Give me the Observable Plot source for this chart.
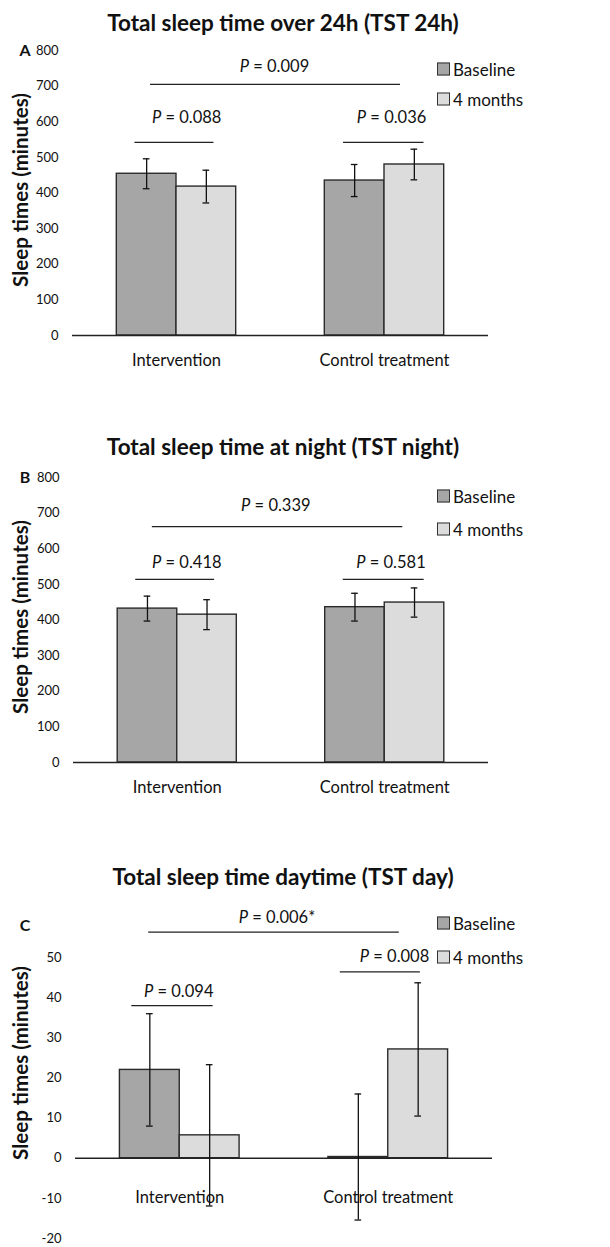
<!DOCTYPE html>
<html><head><meta charset="utf-8">
<script src="https://cdn.jsdelivr.net/npm/d3@7"></script>
<script src="https://cdn.jsdelivr.net/npm/@observablehq/plot@0.6"></script>
<style>
body{margin:0;background:#fff;}
#root{position:relative;width:610px;height:1247px;font-family:Lato,sans-serif;color:#111;overflow:hidden;}
.title{position:absolute;left:0;width:566px;text-align:center;font-weight:bold;font-size:22.5px;line-height:1;transform:translateY(-50%);white-space:nowrap;}
.letter{position:absolute;left:25px;font-weight:bold;font-size:16px;line-height:1;transform:translate(-50%,-50%);}
.ytitle{position:absolute;left:20px;font-weight:bold;font-size:20.5px;line-height:1;white-space:nowrap;transform:translate(-50%,-50%) rotate(-90deg);}
.leg{position:absolute;left:437px;display:flex;align-items:center;font-size:17px;line-height:1;transform:translateY(-50%);white-space:nowrap;}
.leg span.sw{display:inline-block;width:11px;height:11px;border:1.2px solid #333;margin-right:3px;}
svg{position:absolute;left:0;overflow:visible;}
</style></head><body><div id="root"></div>
<script>
// ---- data ----
const groups = ["Intervention", "Control treatment"];
const series = ["Baseline", "4 months"];
const seriesColors = ["#a6a6a6", "#dcdcdc"];

// Panel A: TST 24h (minutes), per group [Intervention, Control treatment]
const tst24Baseline = [454, 435];
const tst24BaselineErr = [42, 45];
const tst24FourMonths = [418, 480];
const tst24FourMonthsErr = [46, 43];
const tst24Ticks = [0, 100, 200, 300, 400, 500, 600, 700, 800];
const tst24Annotations = [
  {label: "P = 0.009", x1: -0.125, x2: 1.077, level: 705, labelX: 0.471, labelY: 755},
  {label: "P = 0.088", x1: -0.2, x2: 0.18, level: 542, labelX: 0.049, labelY: 612},
  {label: "P = 0.036", x1: 0.803, x2: 1.19, level: 542, labelX: 1.034, labelY: 612}
];

// Panel B: TST night (minutes)
const tstNightBaseline = [432, 436];
const tstNightBaselineErr = [35, 39];
const tstNightFourMonths = [415, 449];
const tstNightFourMonthsErr = [42, 41];
const tstNightTicks = [0, 100, 200, 300, 400, 500, 600, 700, 800];
const tstNightAnnotations = [
  {label: "P = 0.339", x1: -0.12, x2: 1.087, level: 662, labelX: 0.475, labelY: 721},
  {label: "P = 0.418", x1: -0.2, x2: 0.18, level: 514, labelX: 0.046, labelY: 561},
  {label: "P = 0.581", x1: 0.80, x2: 1.19, level: 514, labelX: 1.03, labelY: 561}
];

// Panel C: TST day (minutes)
const tstDayBaseline = [22, 0.3];
const tstDayBaselineErr = [14, 15.7];
const tstDayFourMonths = [5.7, 27.1];
const tstDayFourMonthsErr = [17.6, 16.6];
const tstDayTicks = [-20, -10, 0, 10, 20, 30, 40, 50];
const tstDayAnnotations = [
  {label: "P = 0.006*", x1: -0.149, x2: 1.053, level: 56.3, labelX: 0.466, labelY: 59.8},
  {label: "P = 0.094", x1: -0.23, x2: 0.16, level: 38, labelX: -0.005, labelY: 41.5},
  {label: "P = 0.008", x1: 0.77, x2: 1.154, level: 46.4, labelX: 1.03, labelY: 50.1}
];

// ---- layout / style constants ----
const BAR_W = 0.287;   // bar width in group units
const CAP = 0.016;     // half width of error-bar caps in group units
const FONT = "Lato, sans-serif";

const root = document.getElementById("root");

function addDiv(cls, text, top, extraStyle) {
  const d = document.createElement("div");
  d.className = cls;
  d.textContent = text;
  d.style.top = top + "px";
  if (extraStyle) Object.assign(d.style, extraStyle);
  root.appendChild(d);
  return d;
}

function addLegend(topBase, topFour) {
  [topBase, topFour].forEach((t, i) => {
    const d = document.createElement("div");
    d.className = "leg";
    d.style.top = t + "px";
    const sw = document.createElement("span");
    sw.className = "sw";
    sw.style.background = seriesColors[i];
    d.appendChild(sw);
    d.appendChild(document.createTextNode(series[i]));
    root.appendChild(d);
  });
}

function buildRows(base, baseErr, four, fourErr) {
  const rows = [];
  groups.forEach((g, gi) => {
    rows.push({group: g, series: series[0], x1: gi - BAR_W, x2: gi, xc: gi - BAR_W / 2, value: base[gi], err: baseErr[gi]});
    rows.push({group: g, series: series[1], x1: gi, x2: gi + BAR_W, xc: gi + BAR_W / 2, value: four[gi], err: fourErr[gi]});
  });
  return rows;
}

function italicP(svg) {
  d3.select(svg).selectAll("text").each(function () {
    const t = this.textContent;
    if (t.startsWith("P = ") && this.children.length === 0) {
      this.textContent = "";
      const s = d3.select(this);
      s.append("tspan").attr("font-style", "italic").text("P");
      s.append("tspan").text(t.slice(1));
    }
  });
}

function panel(cfg) {
  const rows = buildRows(cfg.base, cfg.baseErr, cfg.four, cfg.fourErr);
  const caps = rows.flatMap(d => [{xc: d.xc, y: d.value - d.err}, {xc: d.xc, y: d.value + d.err}]);
  const svg = Plot.plot({
    width: 610,
    height: cfg.height,
    marginTop: cfg.marginTop,
    marginBottom: cfg.marginBottom,
    marginLeft: cfg.marginLeft,
    marginRight: cfg.marginRight,
    style: {fontFamily: FONT, background: "transparent", color: "#111"},
    x: {domain: [-0.5, 1.5]},
    y: {domain: cfg.yDomain},
    color: {domain: series, range: seriesColors},
    marks: [
      Plot.axisY({ticks: cfg.ticks, tickSize: 0, tickPadding: 14, fontSize: 13, tickFormat: d => String(d), label: null}),
      Plot.axisX({ticks: [0, 1], tickSize: 0, tickPadding: cfg.xPad, fontSize: 16.5, tickFormat: i => groups[i], label: null}),
      Plot.rectY(rows, {x1: "x1", x2: "x2", y1: 0, y2: "value", fill: "series", stroke: "#2b2b2b", strokeWidth: 1.4}),
      Plot.ruleY([0], {stroke: "#222", strokeWidth: 1.6}),
      Plot.ruleX(rows, {x: "xc", y1: d => d.value - d.err, y2: d => d.value + d.err, stroke: "#111", strokeWidth: 1.3}),
      Plot.ruleY(caps, {x1: d => d.xc - CAP, x2: d => d.xc + CAP, y: "y", stroke: "#111", strokeWidth: 1.3}),
      Plot.ruleY(cfg.ann, {x1: "x1", x2: "x2", y: "level", stroke: "#222", strokeWidth: 1.3}),
      Plot.text(cfg.ann, {x: "labelX", y: "labelY", text: "label", fontSize: 16.5, fill: "#111"})
    ]
  });
  italicP(svg);
  svg.style.top = cfg.top + "px";
  root.appendChild(svg);
}

// Panel A
addDiv("title", "Total sleep time over 24h (TST 24h)", 23);
panel({top: 0, height: 420, marginTop: 50, marginBottom: 85, marginLeft: 72, marginRight: 122,
  yDomain: [0, 800], ticks: tst24Ticks, xPad: 19,
  base: tst24Baseline, baseErr: tst24BaselineErr, four: tst24FourMonths, fourErr: tst24FourMonthsErr, ann: tst24Annotations});
addDiv("letter", "A", 50);
addDiv("ytitle", "Sleep times (minutes)", 190);
addLegend(69, 99);

// Panel B
addDiv("title", "Total sleep time at night (TST night)", 447);
panel({top: 420, height: 420, marginTop: 57, marginBottom: 78, marginLeft: 73, marginRight: 122,
  yDomain: [0, 800], ticks: tstNightTicks, xPad: 19,
  base: tstNightBaseline, baseErr: tstNightBaselineErr, four: tstNightFourMonths, fourErr: tstNightFourMonthsErr, ann: tstNightAnnotations});
addDiv("letter", "B", 477);
addDiv("ytitle", "Sleep times (minutes)", 617);
addLegend(496, 529);

// Panel C
addDiv("title", "Total sleep time daytime (TST day)", 877);
panel({top: 840, height: 407, marginTop: 117, marginBottom: 9, marginLeft: 75, marginRight: 118,
  yDomain: [-20, 50], ticks: tstDayTicks, xPad: -47,
  base: tstDayBaseline, baseErr: tstDayBaselineErr, four: tstDayFourMonths, fourErr: tstDayFourMonthsErr, ann: tstDayAnnotations});
addDiv("letter", "C", 925);
addDiv("ytitle", "Sleep times (minutes)", 1063);
addLegend(923, 957);
</script>
</body></html>
